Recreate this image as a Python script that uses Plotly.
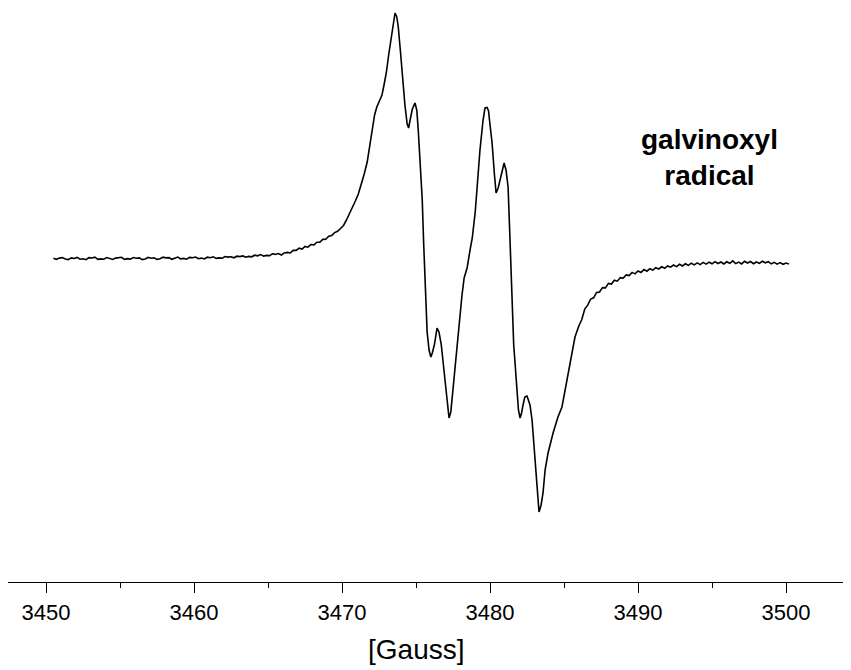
import plotly.graph_objects as go

# EPR spectrum of galvinoxyl radical
# left baseline + onset (noisy part)
field_left = [3450.5, 3450.7, 3450.9, 3451.1, 3451.3, 3451.5, 3451.7, 3451.9, 3452.1, 3452.3,
              3452.5, 3452.7, 3452.9, 3453.1, 3453.3, 3453.5, 3453.7, 3453.9, 3454.1, 3454.3,
              3454.5, 3454.7, 3454.9, 3455.1, 3455.3, 3455.5, 3455.7, 3455.9, 3456.1, 3456.3,
              3456.5, 3456.7, 3456.9, 3457.1, 3457.3, 3457.5, 3457.7, 3457.9, 3458.1, 3458.3,
              3458.5, 3458.7, 3458.9, 3459.1, 3459.3, 3459.5, 3459.7, 3459.9, 3460.1, 3460.3,
              3460.5, 3460.7, 3460.9, 3461.1, 3461.3, 3461.5, 3461.7, 3461.9, 3462.1, 3462.3,
              3462.5, 3462.7, 3462.9, 3463.1, 3463.3, 3463.5, 3463.7, 3463.9, 3464.1, 3464.3,
              3464.5, 3464.7, 3464.9, 3465.1, 3465.3, 3465.5, 3465.7, 3465.9, 3466.1, 3466.3,
              3466.5, 3466.7, 3466.9, 3467.1, 3467.3, 3467.5, 3467.7, 3467.9, 3468.1, 3468.3,
              3468.5, 3468.7, 3468.9, 3469.1, 3469.3, 3469.5, 3469.7, 3469.9]
intensity_left = [1.8, 0.7, 1.9, 2.4, 1.0, 0.4, 2.1, 1.5, 2.6, 0.8,
                  1.2, 0.3, 2.3, 2.0, 2.8, 0.6, 1.1, 0.8, 2.4, 1.6,
                  0.5, 1.9, 2.3, 2.7, 0.7, 1.4, 0.9, 2.5, 1.8, 2.1,
                  0.4, 1.0, 2.6, 1.7, 2.2, 0.6, 1.3, 2.8, 2.1, 2.4,
                  0.7, 1.5, 2.9, 1.1, 1.6, 0.8, 2.6, 2.2, 3.0, 1.3,
                  1.9, 1.0, 2.8, 2.3, 3.2, 1.6, 2.1, 1.8, 3.5, 2.9,
                  3.3, 2.2, 3.8, 3.4, 4.1, 2.8, 3.6, 3.2, 4.8, 4.2,
                  5.4, 3.9, 4.6, 4.4, 6.2, 5.6, 6.5, 5.0, 7.1, 7.6,
                  7.0, 9.7, 9.6, 11.8, 11.0, 13.6, 12.8, 15.5, 15.2, 17.8,
                  17.7, 20.6, 20.8, 23.7, 24.4, 27.4, 28.7, 31.5]

# the two hyperfine groups
field_mid = [3470.1, 3470.3, 3470.5, 3470.7, 3470.9, 3471.1, 3471.3, 3471.5, 3471.7, 3471.9,
             3472.05, 3472.2, 3472.35, 3472.5, 3472.7, 3472.85, 3473.0, 3473.15, 3473.3, 3473.45,
             3473.58, 3473.7, 3473.8, 3473.95, 3474.1, 3474.25, 3474.4, 3474.5, 3474.6, 3474.75,
             3474.93, 3475.05, 3475.15, 3475.3, 3475.42, 3475.52, 3475.62, 3475.75, 3475.88, 3476.0,
             3476.1, 3476.25, 3476.42, 3476.55, 3476.7, 3476.85, 3477.0, 3477.12, 3477.23, 3477.35,
             3477.5, 3477.65, 3477.8, 3477.95, 3478.1, 3478.25, 3478.45, 3478.65, 3478.8, 3479.0,
             3479.12, 3479.32, 3479.53, 3479.66, 3479.8, 3479.9, 3480.0, 3480.14, 3480.3, 3480.41,
             3480.55, 3480.68, 3480.82, 3480.95, 3481.08, 3481.22, 3481.35, 3481.49, 3481.6, 3481.69,
             3481.82, 3481.92, 3482.03, 3482.13, 3482.23, 3482.35, 3482.5, 3482.6, 3482.7, 3482.84,
             3483.04, 3483.2, 3483.31, 3483.45, 3483.58, 3483.72, 3483.92, 3484.26, 3484.59, 3484.86,
             3485.14, 3485.41, 3485.74]
intensity_mid = [34.5, 40.0, 46.0, 52.0, 59.0, 66.0, 75.0, 86.0, 98.0, 118.0,
                 134.0, 145.0, 153.0, 159.0, 165.0, 176.0, 188.0, 205.0, 220.0, 238.0,
                 247.0, 243.0, 233.0, 208.0, 180.0, 155.0, 136.0, 132.0, 140.0, 151.0,
                 157.0, 150.0, 130.0, 95.0, 60.0, 15.0, -32.0, -72.0, -90.0, -97.0,
                 -93.0, -84.0, -68.0, -72.0, -84.0, -105.0, -128.0, -148.0, -158.0, -152.0,
                 -128.0, -100.0, -80.0, -56.0, -36.0, -18.0, -8.0, 10.0, 22.0, 48.0,
                 73.0, 110.0, 140.0, 152.0, 152.5, 149.0, 135.0, 117.0, 85.0, 67.0,
                 72.0, 80.0, 90.0, 97.0, 90.0, 73.0, 20.0, -40.0, -85.0, -103.0,
                 -135.0, -150.0, -158.0, -153.0, -145.0, -137.0, -136.0, -140.0, -145.0, -160.0,
                 -200.0, -236.0, -252.0, -245.0, -233.0, -210.0, -193.0, -173.0, -157.0, -147.0,
                 -125.0, -100.0, -77.0]

# recovery + right baseline (noisy part)
field_right = [3486.0, 3486.2, 3486.4, 3486.6, 3486.8, 3487.0, 3487.2, 3487.4, 3487.6, 3487.8,
               3488.0, 3488.2, 3488.4, 3488.6, 3488.8, 3489.0, 3489.2, 3489.4, 3489.6, 3489.8,
               3490.0, 3490.2, 3490.4, 3490.6, 3490.8, 3491.0, 3491.2, 3491.4, 3491.6, 3491.8,
               3492.0, 3492.2, 3492.4, 3492.6, 3492.8, 3493.0, 3493.2, 3493.4, 3493.6, 3493.8,
               3494.0, 3494.2, 3494.4, 3494.6, 3494.8, 3495.0, 3495.2, 3495.4, 3495.6, 3495.8,
               3496.0, 3496.2, 3496.4, 3496.6, 3496.8, 3497.0, 3497.2, 3497.4, 3497.6, 3497.8,
               3498.0, 3498.2, 3498.4, 3498.6, 3498.8, 3499.0, 3499.2, 3499.4, 3499.6, 3499.8,
               3500.0, 3500.2]
intensity_right = [-66.0, -59.5, -49.0, -45.2, -39.0, -37.8, -32.4, -32.0, -27.6, -27.9,
                   -23.4, -24.1, -20.3, -21.2, -17.6, -18.1, -14.9, -15.6, -12.4, -13.9,
                   -11.0, -12.5, -9.6, -11.2, -8.7, -10.1, -7.6, -9.0, -6.8, -8.3,
                   -5.9, -7.2, -5.0, -6.6, -4.3, -6.0, -3.8, -5.4, -3.2, -4.9,
                   -2.9, -4.6, -2.4, -4.1, -2.2, -3.8, -1.6, -3.5, -2.0, -4.0,
                   -1.8, -3.3, -0.9, -3.6, -2.1, -3.9, -1.2, -3.0, -1.5, -3.7,
                   -2.0, -3.4, -1.3, -2.8, -1.7, -3.9, -2.4, -4.1, -2.6, -4.3,
                   -3.0, -4.0]

x_ticks = [3450, 3460, 3470, 3480, 3490, 3500]


def main():
    field = field_left + field_mid + field_right
    intensity = intensity_left + intensity_mid + intensity_right

    fig = go.Figure(go.Scatter(x=field, y=intensity, mode="lines",
                               line=dict(color="black", width=1.6), showlegend=False))

    # label in the upper right
    fig.add_annotation(x=3494.86, y=103, text="<b>galvinoxyl</b><br><b>radical</b>",
                       showarrow=False, align="center",
                       font=dict(family="Liberation Sans, Arial", size=28, color="black"))
    # axis title sits under the middle of the sweep, not the middle of the axis
    fig.add_annotation(x=3475, xref="x", y=0, yref="paper", yanchor="top", yshift=-50,
                       text="[Gauss]", showarrow=False,
                       font=dict(family="Liberation Sans, Arial", size=28, color="black"))

    # page body adds an 8px offset, so the figure is shifted back by that much
    fig.update_layout(width=851, height=670, paper_bgcolor="white", plot_bgcolor="white",
                      margin=dict(l=0, r=8, t=0, b=96),
                      font=dict(family="Liberation Sans, Arial", color="black"))
    fig.update_xaxes(range=[3447.43, 3504.39], tickvals=x_ticks, showgrid=False, zeroline=False,
                     showline=True, linecolor="black", linewidth=1.3,
                     ticks="outside", ticklen=10, tickwidth=1.3, tickcolor="black",
                     tickfont=dict(size=22),
                     minor=dict(dtick=5, tick0=3445, ticks="outside", ticklen=5,
                                tickwidth=1.3, tickcolor="black", showgrid=False))
    fig.update_yaxes(range=[-322, 252], visible=False)
    fig.write_html("out.html")


if __name__ == "__main__":
    main()
